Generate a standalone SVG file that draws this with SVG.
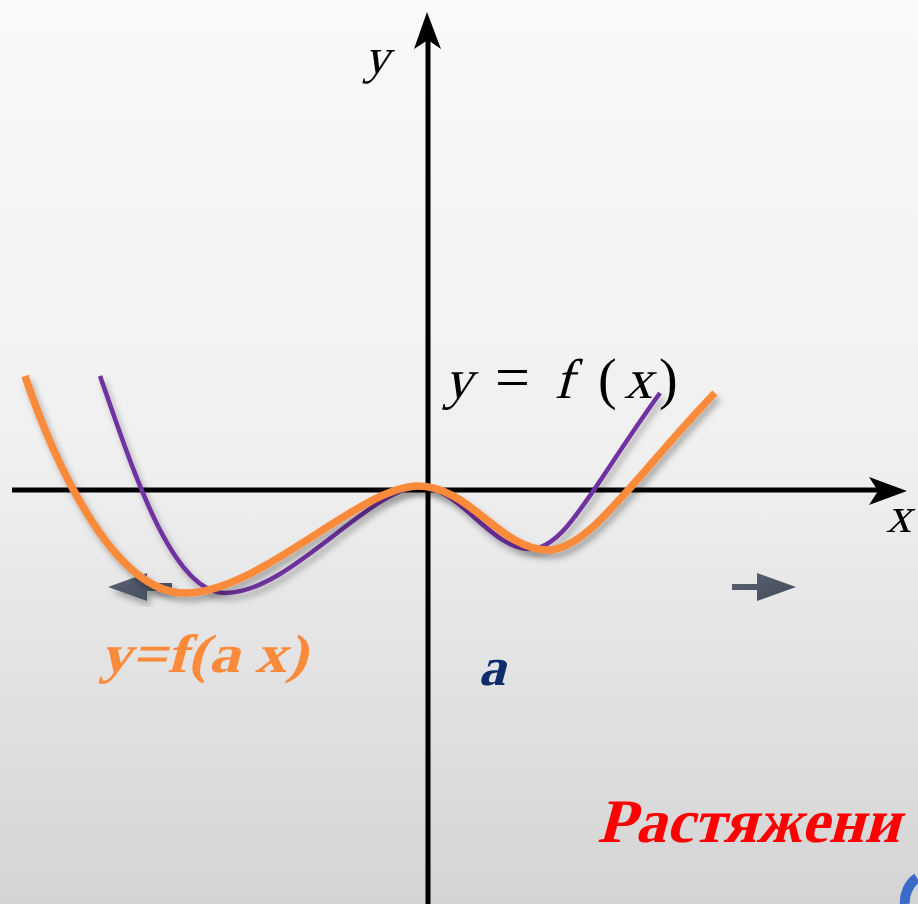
<svg xmlns="http://www.w3.org/2000/svg" width="918" height="904" viewBox="0 0 918 904">
<defs>
<linearGradient id="bg" x1="0" y1="0" x2="0" y2="1">
<stop offset="0" stop-color="#f9f9f9"/>
<stop offset="0.5" stop-color="#f0f0f0"/>
<stop offset="1" stop-color="#d4d4d4"/>
</linearGradient>
<linearGradient id="arr" x1="0" y1="0" x2="1" y2="1">
<stop offset="0" stop-color="#5a6272"/>
<stop offset="1" stop-color="#444c5c"/>
</linearGradient>
<filter id="sh" x="-10%" y="-10%" width="120%" height="130%">
<feDropShadow dx="3" dy="5" stdDeviation="3" flood-color="#000" flood-opacity="0.3"/>
</filter>
<style>
.ax{stroke:#000;stroke-width:5;fill:none}
.head{fill:#000}
.sf{font-family:"Liberation Serif","Times New Roman",serif;font-style:normal}
.garr{fill:url(#arr)}
</style>
</defs>
<rect width="918" height="904" fill="url(#bg)"/>
<g id="axes">
<line class="ax" x1="12" y1="490" x2="880" y2="490"/>
<polygon class="head" points="907,491 869,477 878,491 869,505"/>
<line class="ax" x1="428" y1="904" x2="428" y2="40"/>
<polygon class="head" points="427,12 414,49 428,40 441,49"/>
</g>
<g id="axis-labels">
<text class="sf" transform="translate(364,73) skewX(-15)" font-size="50">y</text>
<text class="sf" transform="translate(886,532) skewX(-15)" font-size="50">x</text>
</g>
<g id="arrows">
<path class="garr" d="M108,587 L147,573 L147,583 L172,583 L172,591 L147,591 L147,601 Z" filter="url(#sh)"/>
<path class="garr" d="M732,584 L757,584 L757,573 L796,587 L757,601 L757,590 L732,590 Z"/>
</g>
<g id="curve-f">
<path d="M100,376 C130,460 170,593 225,593 C290,593 370,487 420,487 C460,487 490,549 530,549 C565,549 590,490 660,393" fill="none" stroke="#7030a0" stroke-width="4.5" filter="url(#sh)"/>
</g>
<g id="curve-fax">
<path d="M25,376 C50,450 110,593 185,593 C260,593 360,486 418,486 C470,486 500,550 548,550 C590,550 640,470 715,393" fill="none" stroke="#fb8a3a" stroke-width="7.5" filter="url(#sh)"/>
</g>
<g id="label-f" font-size="56">
<text class="sf" transform="translate(444,398) skewX(-15)">y</text>
<text class="sf" x="495" y="398" font-size="62">=</text>
<text class="sf" transform="translate(554,398) skewX(-15)">f</text>
<text class="sf" x="598" y="398">(</text>
<text class="sf" transform="translate(624,398) skewX(-15)">x</text>
<text class="sf" x="659" y="398">)</text>
</g>
<g id="label-fax">
<text class="sf" transform="translate(100,672) skewX(-15)" font-size="54" font-weight="bold" fill="#fb8a3a" textLength="207" lengthAdjust="spacingAndGlyphs">y=f(a x)</text>
</g>
<g id="label-a">
<text class="sf" transform="translate(478,685) skewX(-15)" font-size="54" font-weight="bold" fill="#0f2c6b">a</text>
</g>
<g id="title">
<text class="sf" transform="translate(597,842) skewX(-15)" font-size="62" font-weight="bold" fill="#ff0000">Растяжени</text>
<path d="M917,878 C908,884 904,896 905,904" fill="none" stroke="#3a6bc8" stroke-width="10"/>
</g>
</svg>
